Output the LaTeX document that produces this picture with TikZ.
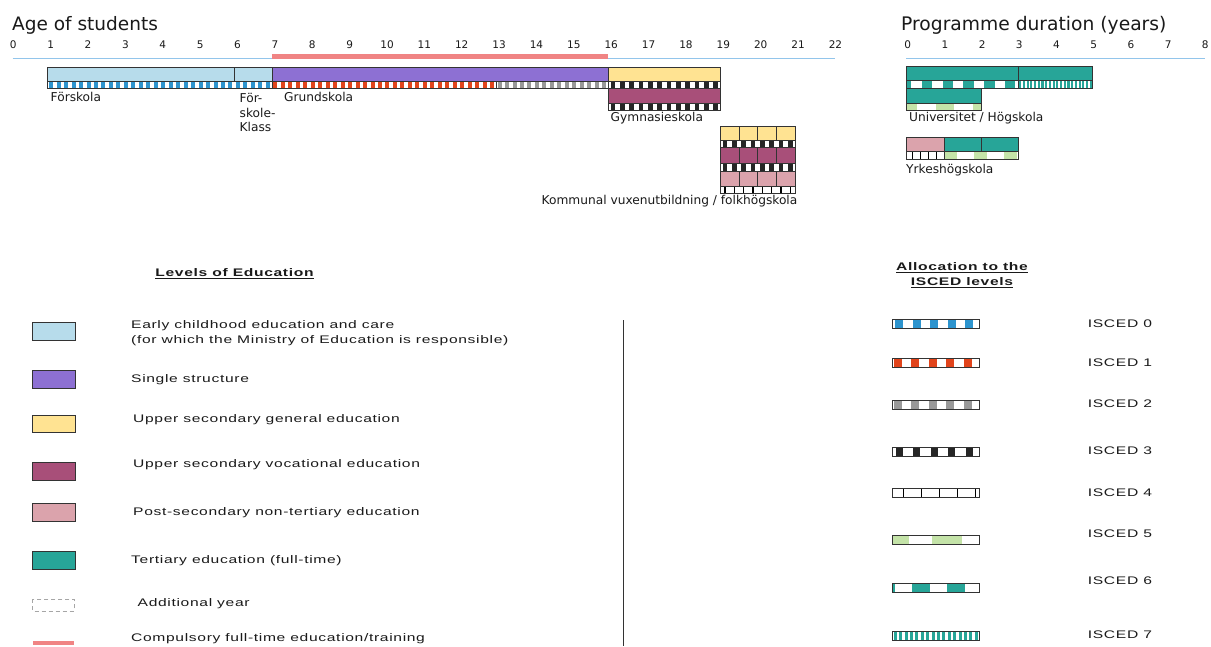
\documentclass[tikz,border=0pt]{standalone}
\usepackage{fontspec}
\setmainfont{DejaVu Sans}
\newfontfamily\legfont[FakeStretch=1.42,LetterSpace=6]{Liberation Sans}
\definecolor{ecec}{HTML}{B7DCEB}
\definecolor{isc0}{HTML}{2D94CE}
\definecolor{single}{HTML}{8D70D3}
\definecolor{isc1}{HTML}{E1441B}
\definecolor{isc2}{HTML}{999999}
\definecolor{ugen}{HTML}{FFE392}
\definecolor{uvoc}{HTML}{A84F79}
\definecolor{postsec}{HTML}{DBA3AC}
\definecolor{tert}{HTML}{27A598}
\definecolor{isc5}{HTML}{C4E3A8}
\definecolor{compred}{HTML}{F08484}
\definecolor{axisblue}{HTML}{92C5EB}
\definecolor{bord}{HTML}{333333}
\definecolor{txt}{HTML}{1A1A1A}
\newcommand{\pstrip}[8]{%
  \begin{scope}
    \clip (#1,#3) rectangle (#2,#4);
    \fill[white] (#1,#3) rectangle (#2,#4);
    \pgfmathtruncatemacro\pn{ceil((#2-#1)/#6)+1}
    \foreach \k in {-1,...,\pn}{\fill[#5] ({#1+#8+\k*#6},#3) rectangle ({#1+#8+\k*#6+#7},#4);}
  \end{scope}
  \draw[bar] (#1,#3) rectangle (#2,#4);
}
\begin{document}
\begin{tikzpicture}[x=1pt,y=-1pt,
  bar/.style={draw=bord,line width=0.8pt},
  title/.style={inner sep=0pt,anchor=west,text=txt},
  tick/.style={inner sep=0pt,text=txt,font=\fontsize{10.5}{12}\selectfont},
  lbl/.style={inner sep=0pt,anchor=west,text=txt,font=\fontsize{12.2}{14.5}\selectfont},
  leg/.style={inner sep=0pt,anchor=west,text=txt,align=left,font=\legfont\fontsize{11}{14.7}\selectfont},
  legh/.style={inner sep=0pt,text=txt,align=center,font=\legfont\bfseries\fontsize{11}{15}\selectfont},
  swatch/.style={draw=bord,line width=1pt}]
\useasboundingbox (0,0) rectangle (1211,646);
\fill[white] (0,0) rectangle (1211,646);

% ---------- titles and axes ----------
\node[title,font=\fontsize{18.5}{20}\selectfont] (agetitle) at (12,25) {Age of students};
\node[title,font=\fontsize{18.7}{20}\selectfont] (durtitle) at (901,25) {Programme duration (years)};
\foreach \a in {0,...,22}{\node[tick] (age\a) at ({13.3+37.37*\a},45) {\a};}
\foreach \p in {0,...,8}{\node[tick] (dur\p) at ({907.7+37.2*\p},45) {\p};}
\draw[axisblue,line width=1.2pt] (12.7,58.3) -- (835,58.3);
\draw[compred,line width=4.7pt] (271.9,56.3) -- (608.2,56.3);
\draw[axisblue,line width=1.2pt] (906,58.3) -- (1205,58.3);

% ---------- Förskola ----------
\fill[ecec] (47.7,67) rectangle (271.9,81);
\draw[bar] (47.7,67) rectangle (271.9,81);
\draw[bar] (234.5,67) -- (234.5,81);
\pstrip{47.7}{271.9}{81}{88.3}{isc0}{7.47}{4}{1.5}

% ---------- Grundskola ----------
\fill[single] (271.9,67) rectangle (608.2,81);
\draw[bar] (271.9,67) rectangle (608.2,81);
\pstrip{271.9}{496.1}{81}{88.3}{isc1}{7.47}{4}{1.5}
\pstrip{496.1}{608.2}{81}{88.3}{isc2}{7.47}{4}{1.5}

% ---------- Gymnasieskola ----------
\fill[ugen] (608.2,67) rectangle (720.3,81);
\draw[bar] (608.2,67) rectangle (720.3,81);
\pstrip{608.2}{720.3}{81}{88.3}{black!85}{9.34}{4.7}{2.3}
\fill[uvoc] (608.2,88.3) rectangle (720.3,103.3);
\draw[bar] (608.2,88.3) rectangle (720.3,103.3);
\pstrip{608.2}{720.3}{103.3}{110.7}{black!85}{9.34}{4.7}{2.3}

% ---------- Kommunal vuxenutbildning ----------
\foreach \cx in {720.3,739.0,757.7,776.4}{
  \fill[ugen] (\cx,126) rectangle ++(18.7,14);
  \draw[bar] (\cx,126) rectangle ++(18.7,14);
  \fill[uvoc] (\cx,147.7) rectangle ++(18.7,15.6);
  \draw[bar] (\cx,147.7) rectangle ++(18.7,15.6);
  \fill[postsec] (\cx,171) rectangle ++(18.7,15);
  \draw[bar] (\cx,171) rectangle ++(18.7,15);
}
\pstrip{720.3}{795.1}{140}{147.7}{black!85}{9.34}{4.7}{2.3}
\pstrip{720.3}{795.1}{163.3}{171}{black!85}{9.34}{4.7}{2.3}
\pstrip{720.3}{795.1}{186}{193.3}{black}{9.35}{1.3}{4}

% ---------- labels of the age chart ----------
\node[lbl] (forskola) at (50.5,97) {Förskola};
\node[lbl,align=left] (forskoleklass) at (239.5,112.7) {För-\\skole-\\Klass};
\node[lbl] (grundskola) at (284,97) {Grundskola};
\node[lbl] (gymnasieskola) at (610.5,118) {Gymnasieskola};
\node[lbl,anchor=east] (komvux) at (797.5,201.5) {Kommunal vuxenutbildning / folkhögskola};

% ---------- Universitet / Högskola ----------
\fill[tert] (906.7,66) rectangle (1092.7,80.7);
\draw[bar] (906.7,66) rectangle (1092.7,80.7);
\pstrip{906.7}{1018.3}{80.7}{88.3}{tert}{20.8}{10.5}{-5.8}
\pstrip{1018.3}{1092.7}{80.7}{88.3}{tert}{3.72}{2.1}{0.8}
\draw[bar] (1018.3,66) -- (1018.3,88.3);
\fill[tert] (906.7,88.3) rectangle (981.1,103.3);
\draw[bar] (906.7,88.3) rectangle (981.1,103.3);
\pstrip{906.7}{981.1}{103.3}{110.7}{isc5}{37}{18}{-8}
\node[lbl] (univ) at (909,118) {Universitet / Högskola};

% ---------- Yrkeshögskola ----------
\fill[postsec] (906.7,137.3) rectangle (943.9,151.7);
\fill[tert] (943.9,137.3) rectangle (1018.3,151.7);
\draw[bar] (906.7,137.3) rectangle (1018.3,151.7);
\draw[bar] (943.9,137.3) -- (943.9,151.7);
\draw[bar] (981.1,137.3) -- (981.1,151.7);
\pstrip{906.7}{943.9}{151.7}{159.3}{black}{8}{1.3}{5}
\pstrip{943.9}{1018.3}{151.7}{159.3}{isc5}{30}{13}{0}
\node[lbl] (yrkes) at (906,170.5) {Yrkeshögskola};

% ---------- legend: levels of education ----------
\node[legh] (levhead) at (234.5,273.3) {\underline{Levels of Education}};
\fill[ecec] (32.7,322.3) rectangle (75,340);
\draw[swatch] (32.7,322.3) rectangle (75,340);
\node[leg] (lev1) at (131,333.3) {Early childhood education and care\\(for which the Ministry of Education is responsible)};
\fill[single] (32.7,370) rectangle (75,388.3);
\draw[swatch] (32.7,370) rectangle (75,388.3);
\node[leg] (lev2) at (131,379.3) {Single structure};
\fill[ugen] (32.7,415) rectangle (75,432.3);
\draw[swatch] (32.7,415) rectangle (75,432.3);
\node[leg] (lev3) at (133,420) {Upper secondary general education};
\fill[uvoc] (32.7,462.7) rectangle (75,480.5);
\draw[swatch] (32.7,462.7) rectangle (75,480.5);
\node[leg] (lev4) at (133,465) {Upper secondary vocational education};
\fill[postsec] (32.7,503.3) rectangle (75,521);
\draw[swatch] (32.7,503.3) rectangle (75,521);
\node[leg] (lev5) at (133,512.7) {Post-secondary non-tertiary education};
\fill[tert] (32.7,551.7) rectangle (75,569);
\draw[swatch] (32.7,551.7) rectangle (75,569);
\node[leg] (lev6) at (131,560.7) {Tertiary education (full-time)};
\draw[gray!70,line width=0.8pt,dash pattern=on 4pt off 3pt] (32.7,599) rectangle (74,611);
\node[leg] (lev7) at (137.5,604) {Additional year};
\fill[compred] (32.7,640.7) rectangle (74,645);
\node[leg] (lev8) at (131,638.3) {Compulsory full-time education/training};

\draw[bord,line width=1.2pt] (623.3,320) -- (623.3,646);

% ---------- legend: ISCED ----------
\node[legh] (iscedhead) at (962,274.8) {\underline{Allocation to the}\\\underline{ISCED levels}};
\pstrip{892.7}{979}{319.5}{328.5}{isc0}{17.5}{8}{2.5}
\node[leg] (is0) at (1087.7,323.3) {ISCED 0};
\pstrip{892.7}{979}{358.3}{367.3}{isc1}{17.5}{8}{1}
\node[leg] (is1) at (1087.7,362.3) {ISCED 1};
\pstrip{892.7}{979}{400.8}{409.8}{isc2}{17.5}{8}{1}
\node[leg] (is2) at (1087.7,403.3) {ISCED 2};
\pstrip{892.7}{979}{447}{456}{black!85}{17.5}{7}{3}
\node[leg] (is3) at (1087.7,451) {ISCED 3};
\pstrip{892.7}{979}{488}{497}{black}{18}{1.5}{10}
\node[leg] (is4) at (1087.7,492.3) {ISCED 4};
\fill[white] (892.7,535.5) rectangle (979,544.5);
\fill[isc5] (892.7,535.5) rectangle (908.7,544.5);
\fill[isc5] (931.7,535.5) rectangle (961.7,544.5);
\draw[bar] (892.7,535.5) rectangle (979,544.5);
\node[leg] (is5) at (1087.7,533.3) {ISCED 5};
\pstrip{892.7}{979}{583.2}{592.2}{tert}{35}{18}{19}
\node[leg] (is6) at (1087.7,581) {ISCED 6};
\pstrip{892.7}{979}{631.2}{640.2}{tert}{5.4}{3}{1}
\node[leg] (is7) at (1087.7,635) {ISCED 7};
\end{tikzpicture}
\end{document}
